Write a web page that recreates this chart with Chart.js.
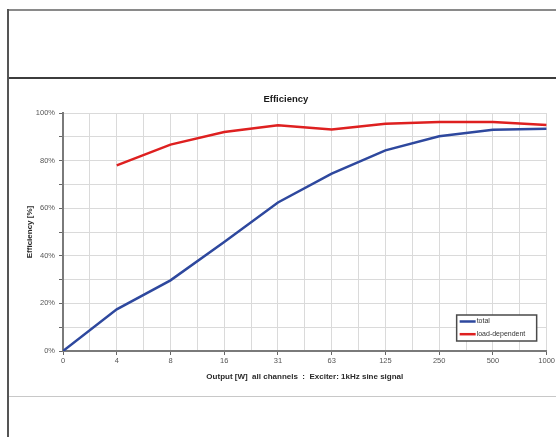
<!DOCTYPE html>
<html>
<head>
<meta charset="utf-8">
<script src="https://cdn.jsdelivr.net/npm/chart.js@4.4.1/dist/chart.umd.min.js"></script>
<style>
	html, body { margin: 0; padding: 0; background: #fff; }
	#wrap { position: relative; width: 556px; height: 437px; overflow: hidden; }
	#chart-area { position: absolute; left: 0; top: 0; }
	.rule { position: absolute; }
</style>
</head>
<body>
<div id="wrap">
	<div class="rule" style="left:8px; top:9px; width:548px; height:2px; background:#8a8a8a;"></div>
	<div class="rule" style="left:8px; top:77px; width:548px; height:2px; background:#3c3c3c;"></div>
	<div class="rule" style="left:8px; top:396px; width:548px; height:1px; background:#c8c8c8;"></div>
	<div class="rule" style="left:7px; top:9px; width:2px; height:428px; background:#555;"></div>
	<canvas id="chart-area" width="556" height="437"></canvas>
</div>
<script>
var fontFamily = "'Liberation Sans', Arial, sans-serif";

// output power steps [W] and efficiency readings [%]
var outputLabels = ['0', '4', '8', '16', '31', '63', '125', '250', '500', '1000'];
var totalEff = [0, 17.5, 29.7, 45.8, 62.4, 74.5, 84.3, 90.2, 93.0, 93.4];
var loadEff = [null, 78.0, 86.7, 92.0, 94.8, 93.1, 95.5, 96.2, 96.2, 95.0];
var seriesNames = ['total', 'load-dependent'];

function toPoints(arr) {
	return arr.map(function(v, i) { return { x: i, y: v }; });
}

// legend box sits inside the plot, bottom right
var boxLegend = {
	id: 'boxLegend',
	afterDraw: function(chart) {
		var ctx = chart.ctx;
		var area = chart.chartArea;
		var x = area.right - 90, y = area.bottom - 36, w = 80, h = 26;
		ctx.save();
		ctx.fillStyle = '#fff';
		ctx.fillRect(x, y, w, h);
		ctx.strokeStyle = '#4a4a4a';
		ctx.lineWidth = 1.5;
		ctx.strokeRect(x, y, w, h);
		ctx.font = '7px ' + fontFamily;
		ctx.textBaseline = 'middle';
		chart.data.datasets.forEach(function(ds, i) {
			var ly = y + 6.5 + i * 12.7;
			ctx.strokeStyle = ds.borderColor;
			ctx.lineWidth = 2.5;
			ctx.beginPath();
			ctx.moveTo(x + 3, ly);
			ctx.lineTo(x + 19, ly);
			ctx.stroke();
			ctx.fillStyle = '#333';
			ctx.fillText(ds.label, x + 20, ly);
		});
		ctx.restore();
	}
};

var config = {
	type: 'line',
	data: {
		datasets: [
			{
				label: seriesNames[0],
				data: toPoints(totalEff),
				borderColor: 'rgb(46, 72, 158)',
				borderWidth: 2.5,
				pointRadius: 0,
				tension: 0
			},
			{
				label: seriesNames[1],
				data: toPoints(loadEff),
				borderColor: 'rgb(222, 32, 32)',
				borderWidth: 2.5,
				pointRadius: 0,
				tension: 0
			}
		]
	},
	options: {
		responsive: false,
		animation: false,
		layout: { padding: { top: 93.3, left: 24.7, right: 9, bottom: 55.5 } },
		plugins: {
			legend: { display: false },
			tooltip: { enabled: false },
			title: {
				display: true,
				text: 'Efficiency',
				color: '#1a1a1a',
				font: { family: fontFamily, size: 9.5, weight: 'bold' },
				padding: { top: 0, bottom: 8.3 }
			}
		},
		scales: {
			x: {
				type: 'linear',
				min: 0,
				max: 9,
				afterFit: function(scale) { scale.height = 30.5; },
				ticks: {
					stepSize: 0.5,
					autoSkip: false,
					maxRotation: 0,
					padding: 1,
					color: '#555',
					font: { family: fontFamily, size: 7.5 },
					callback: function(v) { return Number.isInteger(v) ? outputLabels[v] : ''; }
				},
				grid: {
					color: '#dadada',
					lineWidth: 1,
					tickLength: 4,
					tickColor: function(c) { return c.tick && Number.isInteger(c.tick.value) ? '#666' : 'rgba(0,0,0,0)'; }
				},
				border: { color: '#7a7a7a', width: 2 },
				title: {
					display: true,
					text: 'Output [W]  all channels  :  Exciter: 1kHz sine signal',
					color: '#2a2a2a',
					font: { family: fontFamily, size: 8, weight: 'bold' },
					padding: { top: 0, bottom: 0 }
				}
			},
			y: {
				min: 0,
				max: 100,
				afterFit: function(scale) { scale.width = 38.3; },
				ticks: {
					stepSize: 10,
					autoSkip: false,
					padding: 4,
					color: '#555',
					font: { family: fontFamily, size: 7.5 },
					callback: function(v) { return v % 20 === 0 ? v + '%' : ''; }
				},
				grid: {
					color: '#dadada',
					lineWidth: 1,
					tickLength: 4,
					tickColor: '#666'
				},
				border: { color: '#7a7a7a', width: 2 },
				title: {
					display: true,
					text: 'Efficiency [%]',
					color: '#2a2a2a',
					font: { family: fontFamily, size: 8, weight: 'bold' },
					padding: { top: 0, bottom: 0 }
				}
			}
		}
	},
	plugins: [boxLegend]
};

var chart01 = new Chart(document.getElementById('chart-area').getContext('2d'), config);
</script>
</body>
</html>
